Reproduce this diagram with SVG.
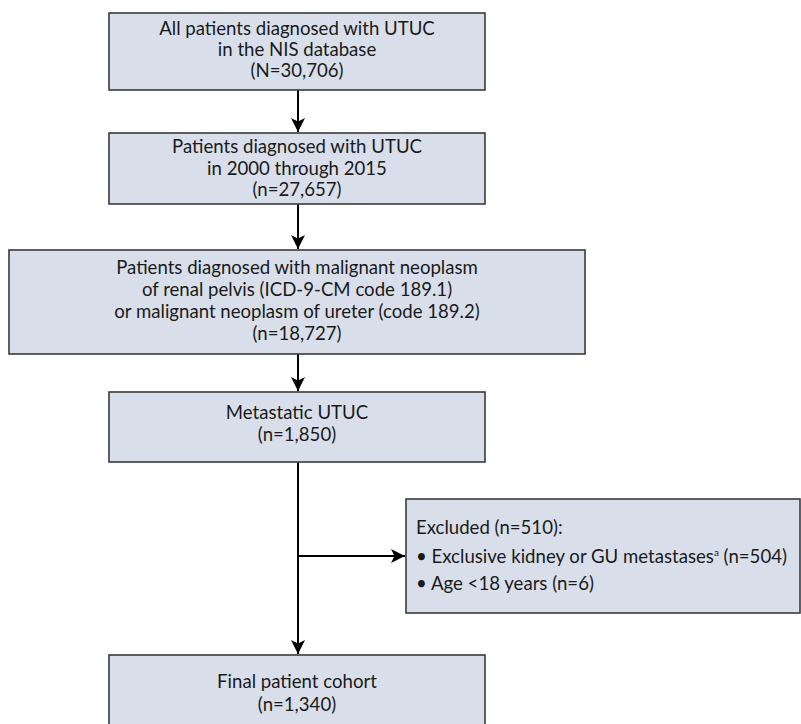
<svg xmlns="http://www.w3.org/2000/svg" width="801" height="724" viewBox="0 0 801 724">
<defs>
<style>
.box{fill:#d9dfea;stroke:#3a3a3a;stroke-width:1.6}
.t{font-family:Lato,"Noto Sans","Liberation Sans",sans-serif;font-size:18.6px;fill:#1a1a1a;text-anchor:middle}
.l{font-family:Lato,"Noto Sans","Liberation Sans",sans-serif;font-size:18.6px;fill:#1a1a1a}
.c{stroke:#000;stroke-width:2;fill:none}
</style>
<marker id="ah" viewBox="0 0 10 10" refX="10" refY="5" markerWidth="7" markerHeight="7" orient="auto" markerUnits="strokeWidth">
<path d="M0,0 L10,5 L0,10 L2.5,5 Z" fill="#000"/>
</marker>
</defs>
<rect width="801" height="724" fill="#fff"/>
<g id="connectors">
<line class="c" x1="298" y1="90" x2="298" y2="132" marker-end="url(#ah)"/>
<line class="c" x1="298" y1="204" x2="298" y2="249" marker-end="url(#ah)"/>
<line class="c" x1="298" y1="354" x2="298" y2="391" marker-end="url(#ah)"/>
<line class="c" x1="298" y1="462" x2="298" y2="654" marker-end="url(#ah)"/>
<line class="c" x1="298" y1="556" x2="405" y2="556" marker-end="url(#ah)"/>
</g>
<g id="n1">
<rect class="box" x="109" y="13" width="376" height="77"/>
<text class="t" x="297" y="35">All patients diagnosed with UTUC</text>
<text class="t" x="297" y="56">in the NIS database</text>
<text class="t" x="297" y="77">(N=30,706)</text>
</g>
<g id="n2">
<rect class="box" x="109" y="133" width="376" height="71"/>
<text class="t" x="297" y="153">Patients diagnosed with UTUC</text>
<text class="t" x="297" y="174.5">in 2000 through 2015</text>
<text class="t" x="297" y="196">(n=27,657)</text>
</g>
<g id="n3">
<rect class="box" x="9" y="250" width="576" height="104"/>
<text class="t" x="297" y="274">Patients diagnosed with malignant neoplasm</text>
<text class="t" x="297" y="296">of renal pelvis (ICD-9-CM code 189.1)</text>
<text class="t" x="297" y="318">or malignant neoplasm of ureter (code 189.2)</text>
<text class="t" x="297" y="340">(n=18,727)</text>
</g>
<g id="n4">
<rect class="box" x="109" y="392" width="376" height="70"/>
<text class="t" x="297" y="419">Metastatic UTUC</text>
<text class="t" x="297" y="441">(n=1,850)</text>
</g>
<g id="n5">
<rect class="box" x="406" y="499" width="394" height="114"/>
<text class="l" x="416" y="534">Excluded (n=510):</text>
<text class="l" x="416" y="563">• Exclusive kidney or GU metastases<tspan font-size="10" dy="-7">a</tspan><tspan dy="7"> (n=504)</tspan></text>
<text class="l" x="416" y="590">• Age &lt;18 years (n=6)</text>
</g>
<g id="n6">
<rect class="box" x="109" y="655" width="376" height="80"/>
<text class="t" x="297" y="688">Final patient cohort</text>
<text class="t" x="297" y="711">(n=1,340)</text>
</g>
</svg>
